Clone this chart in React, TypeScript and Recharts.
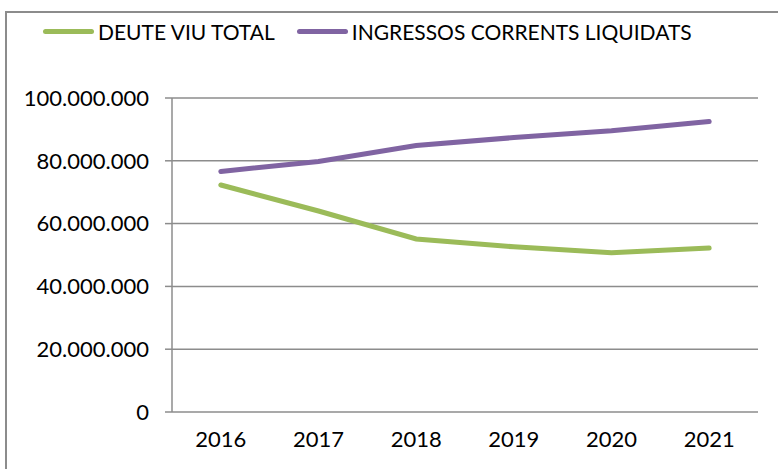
import React from 'react';
import { LineChart, Line, XAxis, YAxis, CartesianGrid } from 'recharts';

const years = ['2016', '2017', '2018', '2019', '2020', '2021'];
const deuteViu = [72300000, 64000000, 55100000, 52600000, 50700000, 52200000];
const ingressos = [76600000, 79800000, 84900000, 87400000, 89600000, 92500000];
const yTicks = [0, 20000000, 40000000, 60000000, 80000000, 100000000];
const boundaryTicks = [0, 1, 2, 3, 4, 5, 6];

const series = [
  { key: 'deute', name: 'DEUTE VIU TOTAL', color: '#9BBB59' },
  { key: 'ingressos', name: 'INGRESSOS CORRENTS LIQUIDATS', color: '#8064A2' },
];

const data = years.map((year, i) => ({
  year,
  idx: i + 0.5,
  deute: deuteViu[i],
  ingressos: ingressos[i],
}));

const FONT = 'Lato, "Liberation Sans", Arial, sans-serif';
const GRID = '#8c8c8c';

const fmt = (v: number) => v.toString().replace(/\B(?=(\d{3})+(?!\d))/g, '.');

const LegendBox = () => (
  <div
    style={{
      position: 'absolute',
      left: 43,
      top: 19,
      display: 'flex',
      alignItems: 'center',
      fontFamily: FONT,
      fontSize: 21,
      color: '#000',
      whiteSpace: 'nowrap',
    }}
  >
    {series.map((s, i) => (
      <div key={s.key} style={{ display: 'flex', alignItems: 'center', marginRight: i === 0 ? 22 : 0 }}>
        <div style={{ width: 51, height: 5, borderRadius: 3, background: s.color, marginRight: 4 }} />
        <span>{s.name}</span>
      </div>
    ))}
  </div>
);

const App: React.FC = () => {
  return (
    <div style={{ position: 'absolute', left: 0, top: 0, width: 778, height: 469, overflow: 'hidden', background: '#fff' }}>
      <div
        style={{
          position: 'absolute',
          left: 5,
          top: 11,
          width: 820,
          height: 520,
          border: `2px solid ${GRID}`,
          boxSizing: 'border-box',
        }}
      />
      <LegendBox />
      <div style={{ position: 'absolute', left: 0, top: 0 }}>
        <LineChart width={778} height={469} data={data} margin={{ top: 98, right: 20, bottom: 0, left: 0 }}>
          <CartesianGrid vertical={false} stroke={GRID} strokeWidth={1.5} />
          <XAxis
            xAxisId="b"
            dataKey="idx"
            type="number"
            domain={[0, 6]}
            ticks={boundaryTicks}
            tick={false}
            height={0}
            stroke={GRID}
            strokeWidth={1.5}
            tickSize={6}
          />
          <XAxis
            xAxisId="c"
            dataKey="year"
            scale="band"
            axisLine={false}
            tickLine={false}
            tickSize={0}
            tickMargin={19}
            height={57}
            tick={{ fill: '#000', fontSize: 22, fontFamily: FONT }}
          />
          <YAxis
            width={172}
            domain={[0, 100000000]}
            ticks={yTicks}
            tickFormatter={fmt}
            stroke={GRID}
            strokeWidth={1.5}
            tickSize={7}
            tickMargin={16}
            tick={{ fill: '#000', fontSize: 22, fontFamily: FONT }}
          />
          {series.map((s) => (
            <Line
              key={s.key}
              xAxisId="c"
              dataKey={s.key}
              name={s.name}
              stroke={s.color}
              strokeWidth={5}
              strokeLinecap="round"
              dot={false}
              isAnimationActive={false}
            />
          ))}
        </LineChart>
      </div>
    </div>
  );
};

export default App;
